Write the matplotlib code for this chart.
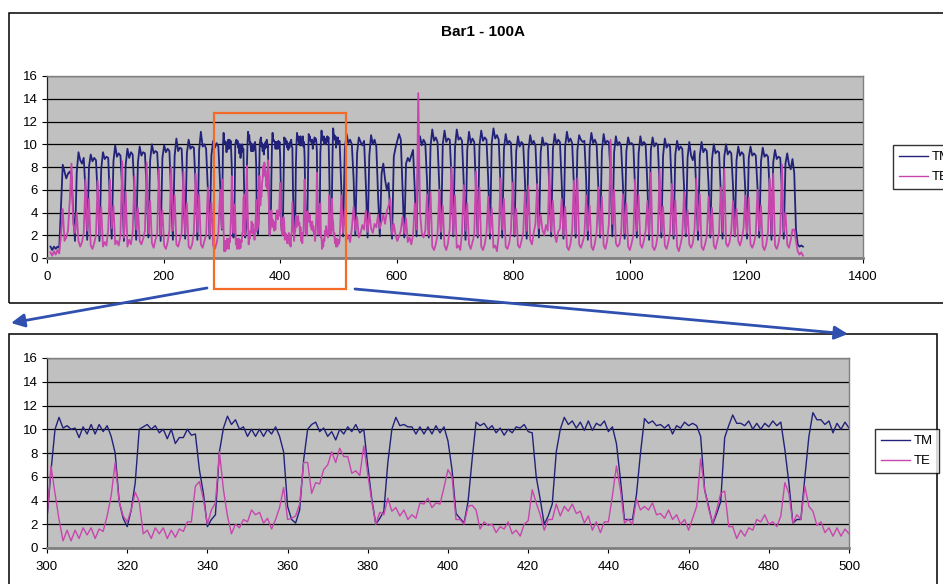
import numpy as np
import matplotlib
matplotlib.use('Agg')
import matplotlib.pyplot as plt
from matplotlib.patches import Rectangle, FancyArrowPatch
from matplotlib.lines import Line2D

plt.rcParams['font.family'] = ['Liberation Sans', 'DejaVu Sans']

W, H = 943, 584

# ---------------- data ----------------
title = "Bar1 - 100A"
series_names = ["TM", "TE"]

# detailed window 300..500 (one sample per unit)
zoom_x = np.arange(300, 501)
zoom_tm = [
    2.5, 6.5, 10.0, 11.0, 10.1, 10.3, 10.0, 10.1, 9.3, 10.2,
    9.6, 10.4, 9.6, 10.4, 9.8, 10.3, 9.4, 8.0, 3.9, 2.5,
    1.8, 3.2, 5.5, 10.0, 10.2, 10.4, 10.0, 10.3, 9.7, 10.0,
    9.2, 10.0, 8.8, 9.3, 9.3, 10.0, 9.5, 9.6, 6.6, 4.6,
    1.8, 2.4, 2.8, 8.1, 10.1, 11.1, 10.4, 10.8, 10.0, 10.2,
    9.4, 10.0, 9.4, 10.0, 9.4, 10.0, 9.6, 10.2, 9.4, 8.1,
    3.5, 2.4, 2.1, 3.2, 7.4, 10.0, 10.4, 10.6, 9.8, 10.1,
    9.4, 9.8, 9.1, 10.0, 9.6, 10.2, 9.8, 10.4, 9.7, 10.0,
    6.9, 4.1, 2.0, 2.5, 3.1, 7.2, 10.0, 11.0, 10.3, 10.4,
    10.2, 10.2, 9.6, 10.2, 9.6, 10.2, 9.6, 10.3, 9.7, 10.2,
    9.0, 6.6, 2.9, 2.5, 2.1, 3.9, 7.4, 10.6, 10.3, 10.5,
    10.0, 10.3, 9.7, 10.1, 9.5, 10.0, 9.7, 10.2, 10.1, 10.4,
    9.8, 9.7, 6.0, 4.1, 2.0, 2.7, 3.7, 8.1, 10.0, 11.0,
    10.4, 10.7, 10.1, 10.6, 9.9, 10.7, 9.9, 10.5, 10.3, 10.7,
    9.8, 10.2, 8.8, 5.8, 2.4, 2.4, 2.4, 4.5, 8.0, 10.9,
    10.5, 10.7, 10.3, 10.4, 10.1, 10.4, 9.6, 10.3, 10.1, 10.6,
    10.3, 10.5, 10.3, 9.4, 4.9, 3.5, 2.0, 2.9, 3.9, 9.3,
    10.3, 11.2, 10.5, 10.5, 10.3, 10.7, 10.0, 10.5, 10.0, 10.5,
    10.2, 10.7, 10.3, 10.6, 8.3, 5.5, 2.1, 2.4, 2.4, 6.0,
    9.4, 11.4, 10.8, 10.8, 10.4, 10.7, 9.7, 10.5, 10.0, 10.6,
    10.1,
]
zoom_te = [
    2.6, 6.9, 4.6, 2.4, 0.6, 1.5, 0.6, 1.5, 0.8, 1.7,
    1.1, 1.7, 0.8, 1.6, 1.4, 2.7, 4.4, 7.2, 3.9, 2.7,
    2.2, 3.2, 4.7, 3.9, 1.2, 1.5, 0.8, 1.7, 1.2, 1.7,
    0.8, 1.5, 0.9, 1.6, 1.4, 2.2, 2.2, 5.2, 5.6, 4.1,
    2.0, 3.2, 3.8, 8.1, 4.9, 2.7, 1.2, 2.0, 1.7, 2.4,
    2.2, 3.2, 2.8, 3.0, 2.1, 2.5, 1.6, 2.4, 3.4, 5.1,
    2.4, 2.5, 2.7, 3.7, 7.2, 7.2, 4.6, 5.5, 5.4, 6.6,
    7.0, 8.1, 7.2, 8.4, 7.7, 7.7, 6.3, 6.5, 6.1, 8.6,
    6.2, 3.9, 2.0, 3.0, 2.8, 4.2, 3.1, 3.4, 2.7, 3.2,
    2.4, 2.8, 2.5, 3.8, 3.7, 4.2, 3.4, 3.8, 3.7, 5.1,
    6.6, 6.0, 2.4, 2.4, 2.0, 3.5, 3.6, 3.2, 1.6, 2.2,
    1.9, 2.0, 1.3, 1.8, 1.6, 2.2, 1.2, 1.5, 1.0, 2.0,
    2.3, 4.9, 3.8, 2.8, 1.5, 2.4, 2.4, 3.7, 2.7, 3.5,
    3.1, 3.7, 2.9, 3.1, 2.1, 2.7, 1.5, 2.2, 1.3, 2.2,
    2.2, 4.4, 6.9, 4.9, 2.1, 2.4, 2.0, 4.1, 3.2, 3.5,
    3.2, 3.8, 2.8, 2.9, 2.5, 3.2, 2.4, 2.8, 2.0, 2.4,
    1.5, 2.5, 3.5, 7.5, 4.9, 3.3, 2.1, 3.2, 4.6, 4.8,
    1.8, 1.8, 0.8, 1.5, 1.0, 1.7, 1.5, 2.4, 2.2, 2.8,
    2.0, 2.2, 1.8, 2.7, 5.5, 4.6, 2.1, 2.8, 2.4, 5.2,
    3.5, 3.1, 1.9, 2.2, 1.3, 1.7, 1.0, 1.7, 1.0, 1.6,
    1.2,
]

# overview, before the window: samples every 3 units, x = 6..297
early_x = np.arange(6, 298, 3)
early_tm = [
    1.0, 0.7, 1.0, 0.8, 1.0, 0.9,
    4.5, 8.2, 7.6, 7.0, 7.4, 7.6, 7.2, 4.0,
    1.5, 7.5, 9.3, 8.6, 8.3, 8.8, 6.0,
    1.6, 8.0, 9.1, 8.5, 8.8, 8.6, 5.5,
    1.5, 7.8, 9.3, 8.7, 8.9, 8.8, 5.0,
    1.7, 8.5, 9.9, 8.9, 9.2, 9.0, 6.2,
    1.5, 8.2, 9.6, 8.8, 9.3, 9.1, 5.8,
    1.6, 8.4, 9.8, 9.0, 9.3, 9.2, 6.0,
    1.8, 8.6, 10.0, 9.2, 9.4, 9.3, 6.5,
    1.5, 8.8, 9.9, 9.3, 9.6, 9.4, 5.5,
    1.6, 9.0, 10.5, 9.4, 9.7, 9.6, 6.0,
    1.7, 9.2, 10.4, 9.6, 9.8, 9.7, 6.4,
    1.6, 9.5, 11.1, 9.8, 10.0, 9.6, 6.0,
    1.7, 9.0, 10.3, 9.7, 10.1, 9.8, 6.5,
]
early_te = [
    0.5, 0.2, 0.6, 0.3, 0.7, 0.4,
    2.0, 4.3, 1.5, 1.8, 2.4, 5.0, 8.3, 3.0,
    2.2, 4.0, 1.5, 1.0, 1.4, 2.2, 6.9,
    2.4, 5.2, 1.1, 0.8, 1.3, 2.0, 6.8,
    2.0, 4.5, 1.0, 1.4, 1.1, 2.5, 6.9,
    2.6, 4.6, 1.2, 1.5, 1.1, 2.0, 8.5,
    1.8, 5.8, 1.0, 1.6, 1.2, 2.2, 7.2,
    2.5, 4.4, 1.5, 1.2, 1.7, 2.4, 8.4,
    2.2, 5.0, 1.3, 0.9, 1.6, 2.1, 7.8,
    2.0, 4.2, 1.1, 0.8, 1.4, 2.4, 8.0,
    2.4, 5.5, 1.2, 1.0, 1.6, 2.2, 7.6,
    2.1, 4.8, 1.0, 0.8, 1.2, 2.3, 7.4,
    2.3, 5.6, 1.2, 0.9, 1.5, 2.0, 6.2,
    2.0, 4.9, 1.1, 0.8, 1.3, 2.2, 6.0,
]

# overview, after the window: samples every 3 units, x = 502..1297
late_x = np.arange(502, 1298, 3)
late_tm = [
    10.3, 6.0,
    1.9, 9.6, 10.9, 10.1, 10.4, 10.0, 7.0,
    2.0, 9.2, 10.6, 10.2, 9.9, 10.3, 6.5,
    1.8, 9.0, 10.8, 10.0, 10.4, 9.8, 5.5,
    1.9, 7.4, 8.3, 6.9, 6.0, 6.6, 3.8,
    1.7, 8.9, 9.7, 10.3, 10.9, 10.4, 6.2,
    1.8, 8.3, 8.8, 8.5, 9.0, 9.5, 6.0,
    1.9, 9.5, 10.7, 9.9, 10.4, 10.1, 6.8,
    1.8, 9.8, 11.3, 10.3, 10.6, 10.2, 6.4,
    1.7, 10.0, 11.2, 10.2, 10.5, 10.4, 7.0,
    1.9, 9.7, 11.3, 10.4, 10.6, 10.3, 6.6,
    1.6, 9.5, 11.1, 10.1, 10.5, 10.2, 6.0,
    1.8, 9.9, 11.2, 10.3, 10.6, 10.4, 6.9,
    1.7, 10.1, 11.4, 10.5, 10.8, 10.4, 6.5,
    1.8, 9.6, 10.9, 10.0, 10.3, 10.1, 6.2,
    1.9, 9.4, 10.7, 9.8, 10.2, 10.0, 6.8,
    1.7, 9.5, 10.8, 10.0, 10.3, 9.9, 6.3,
    1.8, 9.3, 10.6, 9.9, 10.1, 10.0, 6.0,
    1.9, 9.6, 10.9, 10.0, 10.4, 10.2, 6.7,
    1.7, 9.8, 11.1, 10.2, 10.5, 10.1, 6.4,
    1.8, 9.5, 10.8, 10.4, 10.2, 10.3, 6.9,
    1.6, 9.7, 11.0, 10.1, 10.4, 10.0, 6.2,
    1.8, 9.4, 10.9, 10.0, 10.3, 10.2, 7.2,
    1.9, 9.3, 10.7, 9.9, 10.2, 9.8, 6.5,
    1.7, 9.4, 10.6, 10.0, 10.1, 9.9, 6.0,
    1.8, 9.2, 10.7, 9.9, 10.2, 10.0, 6.6,
    1.6, 9.5, 10.6, 9.8, 10.1, 9.9, 6.3,
    1.8, 9.0, 10.5, 9.7, 10.0, 9.8, 6.0,
    1.7, 9.1, 10.3, 9.5, 9.8, 9.6, 6.2,
    1.9, 8.8, 10.2, 9.0, 8.6, 9.4, 6.0,
    1.6, 9.0, 10.2, 9.3, 9.6, 9.4, 6.5,
    1.8, 8.7, 10.0, 9.2, 9.4, 9.3, 5.8,
    1.7, 8.9, 10.0, 9.1, 9.4, 9.2, 6.3,
    1.9, 8.6, 9.8, 9.0, 9.3, 9.1, 6.0,
    1.7, 8.8, 9.8, 9.0, 9.2, 9.0, 6.2,
    1.8, 8.5, 9.7, 8.9, 9.1, 8.9, 5.9,
    1.6, 8.4, 9.5, 8.7, 8.9, 8.8, 6.0,
    1.7, 8.3, 9.2, 8.2, 7.8, 8.7, 7.5,
    2.5, 1.2, 1.0, 1.1, 1.0,
]
late_te = [
    1.5, 5.5,
    2.2, 4.2, 1.6, 2.0, 1.4, 2.6, 4.5,
    2.4, 3.6, 1.8, 2.2, 2.9, 2.5, 4.2,
    2.3, 4.0, 2.6, 2.2, 3.0, 2.7, 3.8,
    2.6, 3.2, 3.8, 3.0, 4.1, 4.6, 5.2,
    2.1, 3.0, 2.0, 1.5, 1.9, 2.4, 3.6,
    2.2, 3.5, 1.4, 1.8, 1.2, 2.0, 4.8,
    2.5, 14.5, 4.0, 2.2, 1.8, 2.4, 5.6,
    2.0, 5.8, 1.0, 0.7, 1.2, 2.0, 6.0,
    2.3, 4.6, 1.1, 0.7, 1.3, 2.6, 8.0,
    2.1, 5.5, 0.9, 1.1, 0.7, 2.2, 6.4,
    2.4, 4.8, 1.2, 0.8, 1.4, 2.0, 7.6,
    2.0, 6.2, 1.0, 0.7, 1.2, 2.2, 5.4,
    2.2, 4.4, 0.9, 1.1, 0.6, 2.0, 7.0,
    2.5, 5.2, 1.0, 0.8, 1.3, 2.4, 6.6,
    2.1, 4.3, 1.1, 0.9, 1.5, 2.2, 5.8,
    2.4, 6.3, 1.6, 1.2, 2.2, 3.0, 6.5,
    2.6, 3.8, 2.5, 2.0, 2.9, 2.4, 7.8,
    2.3, 5.0, 2.0, 1.4, 2.3, 2.6, 5.2,
    2.0, 4.5, 1.0, 0.7, 1.2, 2.4, 6.8,
    2.2, 7.0, 1.2, 0.9, 1.4, 2.0, 5.5,
    2.4, 4.6, 1.0, 0.7, 1.3, 2.3, 6.2,
    2.1, 5.4, 1.1, 0.8, 1.5, 3.0, 10.4,
    3.0, 6.0, 1.3, 1.0, 1.2, 2.2, 5.6,
    2.2, 4.8, 1.0, 0.7, 1.3, 2.0, 6.9,
    2.4, 5.5, 1.2, 0.9, 1.5, 2.4, 5.0,
    2.1, 7.5, 1.0, 0.7, 1.1, 2.1, 7.8,
    2.3, 4.5, 1.1, 0.8, 1.4, 2.3, 6.5,
    2.0, 5.1, 1.0, 0.6, 1.2, 2.0, 5.8,
    2.2, 4.2, 1.2, 0.9, 1.3, 2.5, 7.0,
    2.4, 5.6, 1.0, 0.7, 1.2, 1.9, 5.4,
    2.1, 4.4, 1.1, 0.8, 1.5, 2.2, 6.2,
    2.3, 7.8, 1.3, 1.0, 1.4, 2.4, 5.0,
    2.0, 4.3, 1.5, 1.1, 1.7, 2.6, 5.5,
    2.2, 5.3, 1.2, 0.9, 1.3, 2.1, 6.0,
    2.4, 4.6, 1.0, 0.7, 1.2, 2.3, 7.0,
    2.1, 7.4, 1.1, 0.8, 1.3, 2.2, 8.2,
    2.3, 4.0, 1.2, 0.9, 1.6, 2.5, 2.5,
    1.5, 0.6, 0.3, 0.5, 0.2,
]

top_xticks = [0, 200, 400, 600, 800, 1000, 1200, 1400]
bottom_xticks = [300, 320, 340, 360, 380, 400, 420, 440, 460, 480, 500]
yticks = [0, 2, 4, 6, 8, 10, 12, 14, 16]

full_x = np.concatenate([early_x, zoom_x, late_x])
full_tm = np.concatenate([early_tm, zoom_tm, late_tm])
full_te = np.concatenate([early_te, zoom_te, late_te])

# ---------------- styling ----------------
TM_C = '#22227A'
TE_C = '#C845AE'
PLOT_BG = '#C0C0C0'
FS = 9.5

fig = plt.figure(figsize=(W / 100, H / 100), dpi=100)
fig.patch.set_facecolor('white')


def fx(px):
    return px / W


def fy(py):
    return 1 - py / H


def px_axes(l, t, r, b):
    return fig.add_axes([fx(l), fy(b), (r - l) / W, (b - t) / H])


def style(ax, xticks, xlim, xpad):
    ax.set_facecolor(PLOT_BG)
    ax.set_xlim(*xlim)
    ax.set_ylim(0, 16)
    ax.set_yticks(yticks)
    ax.set_xticks(xticks)
    ax.yaxis.grid(True, color='black', linewidth=0.9)
    ax.set_axisbelow(True)
    for s in ['top', 'right']:
        ax.spines[s].set_color('#808080')
        ax.spines[s].set_linewidth(1.0)
    ax.spines['left'].set_color('#202020')
    ax.spines['left'].set_linewidth(0.9)
    ax.spines['bottom'].set_color('#808080')
    ax.spines['bottom'].set_linewidth(2.0)
    ax.tick_params(axis='y', direction='out', length=3.5, width=0.8,
                   pad=3, labelsize=FS, colors='black')
    ax.tick_params(axis='x', direction='out', length=3.5, width=0.8,
                   pad=xpad, labelsize=FS, colors='black')


# outer chart frames
fig.add_artist(Rectangle((fx(9), fy(303)), (1100 - 9) / W, (303 - 13) / H,
                         transform=fig.transFigure, fill=False,
                         edgecolor='black', linewidth=1.1, zorder=0))
fig.add_artist(Rectangle((fx(9), fy(700)), (937 - 9) / W, (700 - 334) / H,
                         transform=fig.transFigure, fill=False,
                         edgecolor='black', linewidth=1.1, zorder=0))

# ---- top overview ----
ax1 = px_axes(47, 76, 863, 258)
style(ax1, top_xticks, (0, 1400), 6)
ax1.plot(full_x, full_tm, color=TM_C, linewidth=1.3, label=series_names[0])
ax1.plot(full_x, full_te, color=TE_C, linewidth=1.3, label=series_names[1])
fig.text(fx(483), fy(32), title, ha='center', va='center',
         fontsize=11, fontweight='bold')

h1 = [Line2D([], [], color=TM_C, linewidth=1.0),
      Line2D([], [], color=TE_C, linewidth=1.0)]
leg1 = fig.legend(h1, series_names, loc='upper left',
                  bbox_to_anchor=(fx(893), fy(145)), borderaxespad=0,
                  frameon=True, fancybox=False, edgecolor='black',
                  fontsize=FS, handlelength=2.2, handletextpad=0.3,
                  borderpad=0.45, labelspacing=0.6)
leg1.get_frame().set_linewidth(1.0)

# ---- bottom detail ----
ax2 = px_axes(47, 358, 849, 548)
style(ax2, bottom_xticks, (300, 500), 6)
ax2.plot(zoom_x, zoom_tm, color=TM_C, linewidth=1.0, label=series_names[0])
ax2.plot(zoom_x, zoom_te, color=TE_C, linewidth=1.0, label=series_names[1])

leg2 = fig.legend(h1, series_names, loc='upper left',
                  bbox_to_anchor=(fx(875), fy(429)), borderaxespad=0,
                  frameon=True, fancybox=False, edgecolor='black',
                  fontsize=FS, handlelength=2.2, handletextpad=0.3,
                  borderpad=0.45, labelspacing=0.6)
leg2.get_frame().set_linewidth(1.0)

# ---- zoom annotation ----
fig.add_artist(Rectangle((fx(214), fy(289)), (346 - 214) / W, (289 - 113) / H,
                         transform=fig.transFigure, fill=False,
                         edgecolor='#F46A28', linewidth=1.6, zorder=5))
for (x0, y0), (x1, y1) in [((207, 288), (11, 323)), ((355, 289), (848, 334))]:
    fig.add_artist(FancyArrowPatch((fx(x0), fy(y0)), (fx(x1), fy(y1)),
                                   transform=fig.transFigure,
                                   arrowstyle='-|>,head_length=8,head_width=4',
                                   color='#3050B0', linewidth=2.0,
                                   shrinkA=0, shrinkB=0, zorder=5))

fig.savefig('out.png', dpi=100, facecolor='white')
